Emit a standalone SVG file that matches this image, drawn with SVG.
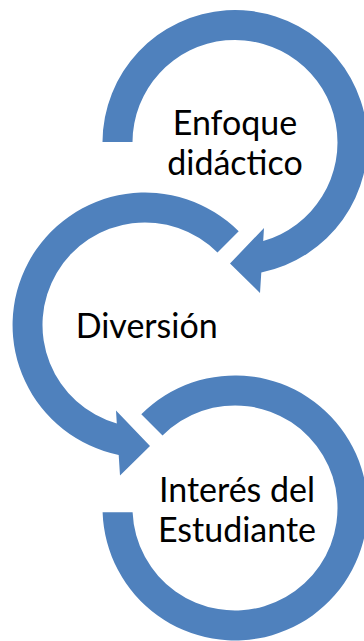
<svg xmlns="http://www.w3.org/2000/svg" width="364" height="641" viewBox="0 0 364 641">
  <style>
    .arrow { fill: #4F81BD; stroke: none; }
    .lbl { font-family: "Lato", "Open Sans", "Liberation Sans", sans-serif; font-size: 34px; fill: #000000; text-anchor: middle; }
  </style>
  <rect width="364" height="641" fill="#FFFFFF"/>
  <g id="connectors">
    <path id="arrow-top" class="arrow" d="M 102.5 142 A 132.5 132.5 0 1 1 261.3 272.4 L 260 293 L 230 263.5 L 264 228 L 263.2 241 A 102.5 102.5 0 1 0 132.5 142 Z"/>
    <path id="arrow-middle" class="arrow" d="M 238.7 231.3 A 132.5 132.5 0 1 0 118.7 454.9 L 120 475.5 L 150 446 L 116 410.5 L 116.8 423.5 A 102.5 102.5 0 1 1 217.5 252.5 Z"/>
    <path id="arrow-bottom" class="arrow" d="M 141.3 414.3 A 132.5 132.5 0 1 1 102.6 512.3 L 132.6 512.3 A 102.5 102.5 0 1 0 162.5 435.5 Z"/>
  </g>
  <g id="node-enfoque">
    <text class="lbl" x="235" y="135">Enfoque</text>
    <text class="lbl" x="235" y="175">didáctico</text>
  </g>
  <g id="node-diversion">
    <text class="lbl" x="146.7" y="337.7">Diversión</text>
  </g>
  <g id="node-interes">
    <text class="lbl" x="237" y="501.7">Interés del</text>
    <text class="lbl" x="237" y="541.7">Estudiante</text>
  </g>
</svg>
